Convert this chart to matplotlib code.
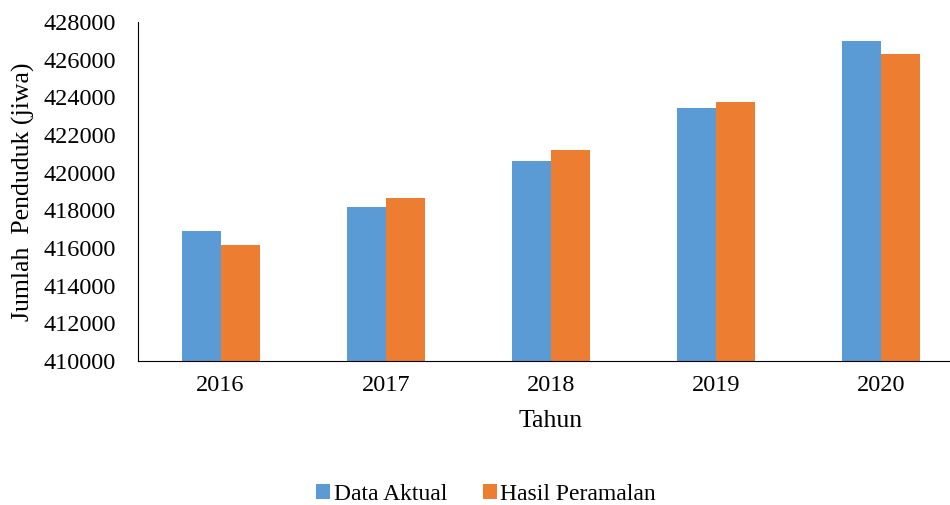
import numpy as np
from matplotlib import pyplot as plt

tahun = ["2016", "2017", "2018", "2019", "2020"]
data_aktual = [416920, 418180, 420610, 423420, 427010]
hasil_peramalan = [416140, 418670, 421220, 423770, 426320]

blue = "#5B9BD5"
orange = "#ED7D31"

plt.rcParams['font.family'] = ['Liberation Serif', 'DejaVu Serif']

fig = plt.figure(figsize=(9.5, 5.05), dpi=100)
# axes spans a bit past the right edge, like the cropped original
ax = fig.add_axes([138 / 950, 1 - 361 / 505, 826 / 950, 339 / 505])

x = np.arange(len(tahun))
w = 0.236
ax.bar(x - w / 2, data_aktual, w, color=blue, label="Data Aktual")
ax.bar(x + w / 2, hasil_peramalan, w, color=orange, label="Hasil Peramalan")

ax.set_xlim(-0.5, 4.5)
ax.set_ylim(410000, 428000)
ax.set_yticks(np.arange(410000, 428001, 2000))
ax.set_xticks(x)
ax.set_xticklabels(tahun)
ax.tick_params(length=0, labelsize=17.5)
ax.tick_params(axis='y', pad=16)
ax.tick_params(axis='x', pad=10)

for s in ["top", "right"]:
    ax.spines[s].set_visible(False)
ax.spines["left"].set_color("black")
ax.spines["bottom"].set_color("black")

ax.set_xlabel("Tahun", fontsize=18.5, labelpad=10)
ax.set_ylabel("Jumlah  Penduduk (jiwa)", fontsize=18.5, labelpad=6)

fig.legend(loc="center", bbox_to_anchor=(486 / 950, 1 - 494 / 505), ncol=2,
           frameon=False, fontsize=17, handlelength=0.6, handleheight=0.6,
           columnspacing=1.5, handletextpad=0.15)

fig.savefig("out.png", dpi=100)
